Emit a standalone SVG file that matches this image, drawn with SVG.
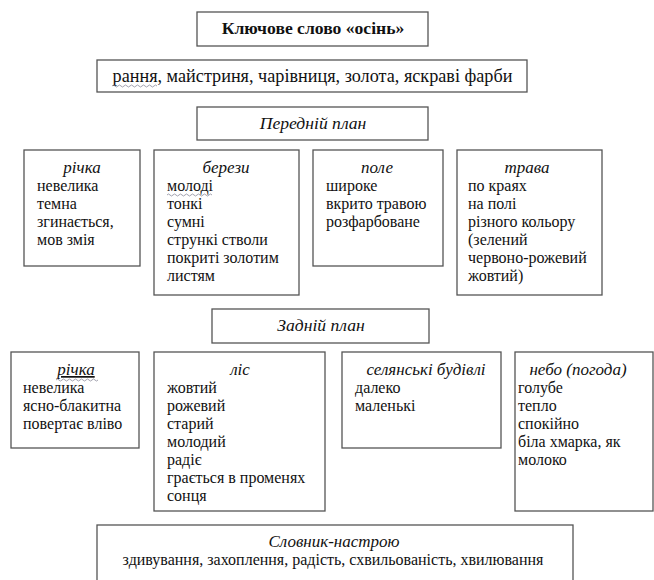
<svg xmlns="http://www.w3.org/2000/svg" width="654" height="580" viewBox="0 0 654 580" font-family="'Liberation Serif', Tinos, 'Times New Roman', 'DejaVu Serif', serif">
<style>
rect.b{fill:#fff;stroke:#555;stroke-width:1.3}
text{font-family:'Liberation Serif', Tinos, 'Times New Roman', 'DejaVu Serif', serif;font-size:16px;fill:#111}
.h{font-size:17.6px}
.t{font-size:17px}
.e{font-size:18.2px}
.bold{font-weight:bold}
.i{font-style:italic;text-anchor:middle}
.c{text-anchor:middle}
.w{fill:none;stroke:#8a8a9a;stroke-width:0.8}
</style>
<rect width="654" height="580" fill="#fff"/>
<g id="connectors"></g>
<g id="keyword"><rect class="b" x="197" y="12" width="231" height="34"/><text class="h bold c" x="313" y="34">Ключове слово «осінь»</text></g>
<g id="epithets"><rect class="b" x="97" y="60" width="430" height="32"/><text class="e c" x="312.5" y="82">рання, майстриня, чарівниця, золота, яскраві фарби</text><path class="w" d="M112 86 q1.5 -2 3 0 t3 0 t3 0 t3 0 t3 0 t3 0 t3 0 t3 0 t3 0 t3 0 t3 0 t3 0 t3 0 t3 0 t3 0"/></g>
<g id="front"><rect class="b" x="197" y="107" width="231" height="33"/><text class="h i" x="313" y="129">Передній план</text></g>
<g id="f-river"><rect class="b" x="24" y="150" width="116" height="116"/><text class="t i" x="82" y="173">річка</text><text x="37" y="191">невелика</text><text x="37" y="209">темна</text><text x="37" y="227">згинається,</text><text x="37" y="245">мов змія</text></g>
<g id="f-birches"><rect class="b" x="154" y="150" width="145" height="145"/><text class="t i" x="226" y="173">берези</text><text x="167" y="191">молоді</text><path class="w" d="M167 195 q1.5 -2 3 0 t3 0 t3 0 t3 0 t3 0 t3 0 t3 0 t3 0 t3 0 t3 0 t3 0 t3 0 t3 0 t3 0 t3 0"/><text x="167" y="209">тонкі</text><text x="167" y="227">сумні</text><text x="167" y="245">стрункі стволи</text><text x="167" y="263">покриті золотим</text><text x="167" y="281">листям</text></g>
<g id="f-field"><rect class="b" x="313" y="150" width="130" height="116"/><text class="t i" x="377" y="173">поле</text><text x="326" y="191">широке</text><text x="326" y="209">вкрито травою</text><text x="326" y="227">розфарбоване</text></g>
<g id="f-grass"><rect class="b" x="457" y="150" width="145" height="145"/><text class="t i" x="527" y="173">трава</text><text x="468" y="191">по краях</text><text x="468" y="209">на полі</text><text x="468" y="227">різного кольору</text><text x="468" y="245">(зелений</text><text x="468" y="263">червоно-рожевий</text><text x="468" y="281">жовтий)</text></g>
<g id="back"><rect class="b" x="212" y="309" width="217" height="34"/><text class="h i" x="321" y="331">Задній план</text></g>
<g id="b-river"><rect class="b" x="11" y="352" width="128" height="96"/><text class="t i" x="76" y="375" text-decoration="underline">річка</text><path class="w" d="M56 380 q1.5 -2 3 0 t3 0 t3 0 t3 0 t3 0 t3 0 t3 0 t3 0 t3 0 t3 0 t3 0 t3 0 t3 0 t3 0"/><text x="23" y="393">невелика</text><text x="23" y="411">ясно-блакитна</text><text x="23" y="429">повертає вліво</text></g>
<g id="b-forest"><rect class="b" x="154" y="352" width="171" height="159"/><text class="t i" x="240" y="375">ліс</text><text x="167" y="393">жовтий</text><text x="167" y="411">рожевий</text><text x="167" y="429">старий</text><text x="167" y="447">молодий</text><text x="167" y="465">радіє</text><text x="167" y="483">грається в променях</text><text x="167" y="501">сонця</text></g>
<g id="b-houses"><rect class="b" x="342" y="352" width="159" height="96"/><text class="t i" x="426" y="375">селянські будівлі</text><text x="355" y="393">далеко</text><text x="355" y="411">маленькі</text></g>
<g id="b-sky"><rect class="b" x="515" y="352" width="138" height="159"/><text class="t i" x="578" y="375">небо (погода)</text><text x="518" y="393">голубе</text><text x="518" y="411">тепло</text><text x="518" y="429">спокійно</text><text x="518" y="447">біла хмарка, як</text><text x="518" y="465">молоко</text></g>
<g id="mood"><rect class="b" x="97" y="525" width="476" height="70"/><text class="t i" x="334" y="547">Словник-настрою</text><text class="c" x="333" y="565">здивування, захоплення, радість, схвильованість, хвилювання</text></g>
</svg>
